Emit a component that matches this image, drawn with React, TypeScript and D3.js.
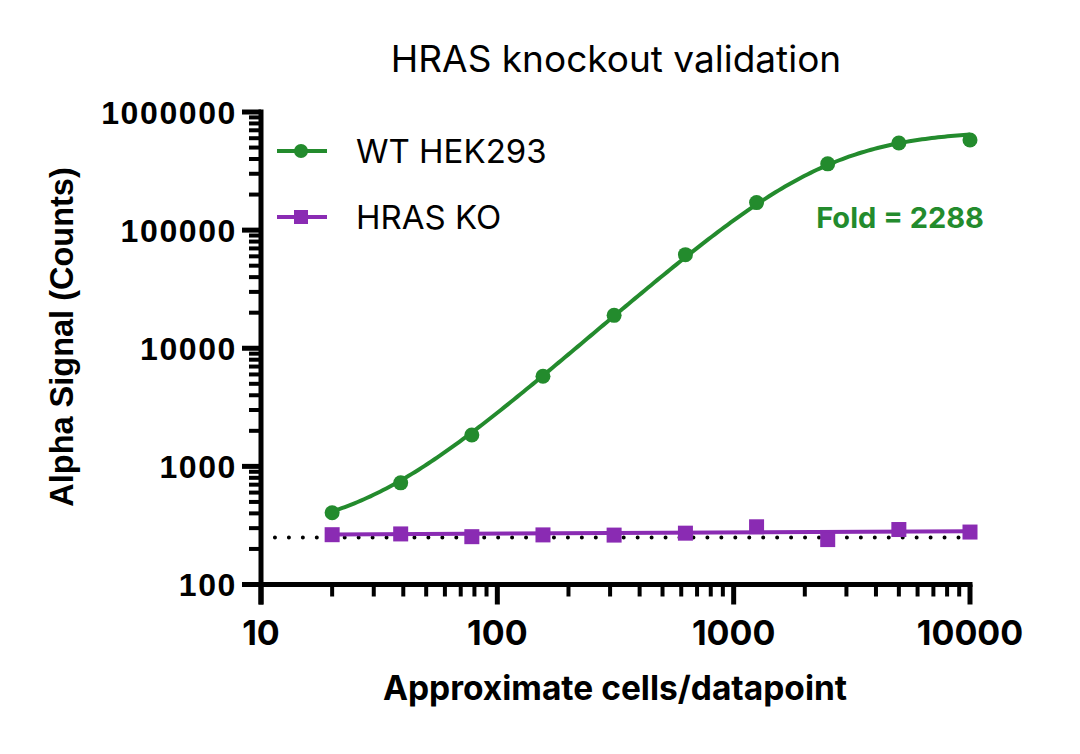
import React, { useEffect, useRef } from 'react';
import * as d3 from 'd3';

// cells per well (2-fold dilution series)
const cells = [20, 39, 78, 156, 312, 625, 1250, 2500, 5000, 10000];
// mean Alpha signal (counts)
const wtSignal = [405, 725, 1845, 5800, 19000, 62000, 171000, 364000, 547000, 580000];
const koSignal = [264, 268, 254, 263, 262, 272, 308, 240, 292, 278];

// 4PL fit for WT (bottom, top, EC50, hill)
const wtFit = { bottom: 260, top: 700000, ec50: 2450, hill: 1.75 };
// KO fit is essentially flat: value at the first and last cell count
const koFitEnds = [265, 283];
// background level (dotted line)
const backgroundLevel = 250;

const xTickLabels = ['10', '100', '1000', '10000'];
const yTickLabels = ['100', '1000', '10000', '100000', '1000000'];

const GREEN = '#238b2d';
const PURPLE = '#8a2bb3';

export default function App() {
  const svgRef = useRef<SVGSVGElement>(null);

  useEffect(() => {
    if (!svgRef.current) return;
    const svg = d3.select(svgRef.current);
    svg.selectAll('*').remove();

    const x = d3.scaleLog().domain([10, 10000]).range([261, 970]);
    const y = d3.scaleLog().domain([100, 1000000]).range([584.5, 112]);

    const geo = 'Inter, "Noto Sans", sans-serif';
    const helv = '"Liberation Sans", Arial, sans-serif';

    // Title
    svg.append('text')
      .attr('x', 616).attr('y', 72)
      .attr('text-anchor', 'middle')
      .attr('font-family', geo).attr('font-size', 37)
      .text('HRAS knockout validation');

    // Background dotted line
    svg.append('line')
      .attr('x1', x(10)).attr('x2', x(10000))
      .attr('y1', y(backgroundLevel)).attr('y2', y(backgroundLevel))
      .attr('stroke', '#000').attr('stroke-width', 4)
      .attr('stroke-linecap', 'round')
      .attr('stroke-dasharray', '0 13.95');

    // WT fit curve
    const fourPL = (c: number) =>
      wtFit.bottom + (wtFit.top - wtFit.bottom) / (1 + Math.pow(wtFit.ec50 / c, wtFit.hill));
    const lo = Math.log10(cells[0]);
    const hi = Math.log10(cells[cells.length - 1]);
    const fitX = d3.range(0, 201).map(i => Math.pow(10, lo + i * (hi - lo) / 200));
    const line = d3.line<[number, number]>().x(d => x(d[0])).y(d => y(d[1]));

    svg.append('path')
      .attr('d', line(fitX.map(c => [c, fourPL(c)])))
      .attr('fill', 'none').attr('stroke', GREEN).attr('stroke-width', 4);

    // KO fit line
    svg.append('path')
      .attr('d', line([[cells[0], koFitEnds[0]], [cells[cells.length - 1], koFitEnds[1]]]))
      .attr('fill', 'none').attr('stroke', PURPLE).attr('stroke-width', 4);

    // Markers
    svg.append('g').selectAll('circle')
      .data(cells)
      .enter().append('circle')
      .attr('cx', d => x(d))
      .attr('cy', (d, i) => y(wtSignal[i]))
      .attr('r', 7.5)
      .attr('fill', GREEN);

    svg.append('g').selectAll('rect')
      .data(cells)
      .enter().append('rect')
      .attr('x', d => x(d) - 7.5)
      .attr('y', (d, i) => y(koSignal[i]) - 7.5)
      .attr('width', 15).attr('height', 15)
      .attr('fill', PURPLE);

    // Axes
    const axes = svg.append('g').attr('stroke', '#000');
    axes.append('line')
      .attr('x1', 242).attr('x2', x(10000) + 2.5)
      .attr('y1', y(100)).attr('y2', y(100))
      .attr('stroke-width', 5);
    axes.append('line')
      .attr('x1', x(10)).attr('x2', x(10))
      .attr('y1', y(1000000) - 2.5).attr('y2', y(100) + 20)
      .attr('stroke-width', 5);

    const isMajor = (v: number) => Math.abs(Math.log10(v) - Math.round(Math.log10(v))) < 1e-9;

    axes.selectAll('.xtick')
      .data(x.ticks())
      .enter().append('line')
      .attr('class', 'xtick')
      .attr('x1', d => x(d)).attr('x2', d => x(d))
      .attr('y1', y(100))
      .attr('y2', d => y(100) + (isMajor(d) ? 20 : 12))
      .attr('stroke-width', d => isMajor(d) ? 5 : 4);

    axes.selectAll('.ytick')
      .data(y.ticks())
      .enter().append('line')
      .attr('class', 'ytick')
      .attr('y1', d => y(d)).attr('y2', d => y(d))
      .attr('x1', x(10))
      .attr('x2', d => x(10) - (isMajor(d) ? 19 : 12))
      .attr('stroke-width', d => isMajor(d) ? 5 : 4);

    svg.append('g').selectAll('text')
      .data(xTickLabels)
      .enter().append('text')
      .attr('x', d => x(+d)).attr('y', 645)
      .attr('text-anchor', 'middle')
      .attr('font-family', geo).attr('font-weight', 700).attr('font-size', 34)
      .text(d => d);

    svg.append('g').selectAll('text')
      .data(yTickLabels)
      .enter().append('text')
      .attr('x', 237).attr('y', d => y(+d))
      .attr('dy', '0.36em')
      .attr('text-anchor', 'end')
      .attr('font-family', helv).attr('font-weight', 700).attr('font-size', 32)
      .attr('letter-spacing', 1.6)
      .text(d => d);

    // Axis titles
    svg.append('text')
      .attr('x', 615).attr('y', 700)
      .attr('text-anchor', 'middle')
      .attr('font-family', geo).attr('font-weight', 700).attr('font-size', 33.5)
      .text('Approximate cells/datapoint');

    svg.append('text')
      .attr('transform', 'translate(73,337) rotate(-90)')
      .attr('text-anchor', 'middle')
      .attr('font-family', helv).attr('font-weight', 700).attr('font-size', 32.5)
      .text('Alpha Signal (Counts)');

    // Legend
    const legend = [
      { name: 'WT HEK293', color: GREEN, shape: 'circle' },
      { name: 'HRAS KO', color: PURPLE, shape: 'square' },
    ];
    const lg = svg.append('g').selectAll('g')
      .data(legend)
      .enter().append('g')
      .attr('transform', (d, i) => `translate(0,${151 + i * 66})`);
    lg.append('line')
      .attr('x1', 277).attr('x2', 327)
      .attr('stroke', d => d.color).attr('stroke-width', 4);
    lg.filter(d => d.shape === 'circle').append('circle')
      .attr('cx', 301).attr('r', 7).attr('fill', d => d.color);
    lg.filter(d => d.shape === 'square').append('rect')
      .attr('x', 294).attr('y', -7).attr('width', 14).attr('height', 14)
      .attr('fill', d => d.color);
    lg.append('text')
      .attr('x', 356).attr('y', 12)
      .attr('font-family', geo).attr('font-size', 33)
      .text(d => d.name);

    // Fold annotation
    svg.append('text')
      .attr('x', 984).attr('y', 228)
      .attr('text-anchor', 'end')
      .attr('font-family', geo).attr('font-weight', 700).attr('font-size', 29)
      .attr('fill', GREEN)
      .text('Fold = 2288');
  }, []);

  return (
    <div style={{ position: 'absolute', left: 0, top: 0, background: '#fff' }}>
      <svg ref={svgRef} width={1080} height={754} />
    </div>
  );
}
